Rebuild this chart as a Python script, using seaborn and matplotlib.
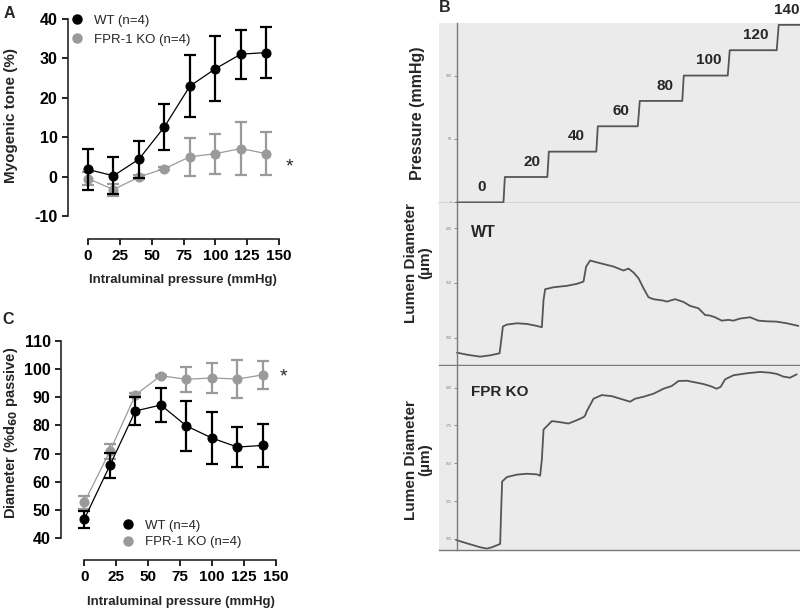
import pandas as pd
import matplotlib.pyplot as plt
from matplotlib.lines import Line2D
import seaborn as sns

sns.set_style("ticks")
plt.rcParams["font.family"] = ["Liberation Sans", "DejaVu Sans"]
plt.rcParams["axes.unicode_minus"] = False

# ---- panel A / C data (mean +/- SEM)
pressure = [0, 20, 40, 60, 80, 100, 120, 140]

tone_wt = [1.9, 0.3, 4.5, 12.7, 23.0, 27.4, 31.1, 31.5]
tone_wt_err = [5.1, 4.7, 4.7, 5.9, 7.8, 8.2, 6.2, 6.5]
tone_ko = [-0.4, -3.2, 0.0, 2.1, 5.1, 5.9, 7.2, 5.9]
tone_ko_err = [1.6, 1.5, 0.5, 0.3, 4.8, 5.1, 6.7, 5.4]

diam_wt = [46.8, 65.8, 85.1, 87.2, 79.8, 75.5, 72.3, 72.9]
diam_wt_err = [3.0, 4.5, 4.9, 5.9, 9.0, 9.3, 7.0, 7.7]
diam_ko = [52.7, 70.8, 90.8, 97.6, 96.3, 96.8, 96.4, 97.9]
diam_ko_err = [2.3, 2.6, 0.5, 0.4, 4.5, 5.2, 6.7, 5.0]

# ---- panel B traces (time in arbitrary units)
p_time = [0, 46.6, 48, 90.5, 92, 139.5, 141, 181, 183, 225.5, 227, 271, 273, 320, 322, 343.3]
p_value = [0, 0, 20, 20, 40, 40, 60, 60, 80, 80, 100, 100, 120, 120, 140, 140]
step_labels = ["0", "20", "40", "60", "80", "100", "120", "140"]
step_label_x = [25, 75, 119, 164, 208, 252, 299, 330]

wt_time = [0, 10, 23.3, 33.3, 42.7, 44, 46, 50, 60, 70, 80, 85, 86.7, 88.3, 96.7,
           110, 120, 126.7, 129.3, 133.3, 143.3, 156.7, 166.7, 171.7, 176.7, 181.7,
           186.7, 191.7, 196.7, 206.7, 210, 218.3, 226.7, 233.3, 241.7, 248.3, 253.3,
           258.3, 265, 271.7, 276.7, 283.3, 293.3, 301.7, 310, 320, 330, 341.7]
wt_diam = [86.3, 84.4, 82.6, 83.8, 85.7, 94.8, 110.1, 111.9, 113.1, 112.5, 110.7,
           109.5, 134.5, 144.2, 146.0, 147.3, 149.1, 151.2, 164.9, 170.4, 168.0,
           164.9, 161.3, 163.1, 159.5, 154.3, 145.1, 136.9, 135.1, 133.8, 132.9,
           135.1, 132.6, 129.0, 126.8, 120.7, 120.1, 118.6, 115.5, 116.2, 115.5,
           117.4, 118.6, 115.5, 114.9, 114.6, 113.1, 110.7]

ko_time = [-0.7, 10, 23.3, 30, 35, 43.3, 44.3, 45.3, 50, 60, 70, 80, 83.3, 85, 86.7,
           95, 103.3, 111.7, 120, 126.7, 128.3, 130, 136.7, 145, 155, 173.3, 178.3,
           186.7, 196.7, 206.7, 215, 221.7, 230, 240, 246.7, 253.3, 260, 264, 268.3,
           276.7, 290, 303.3, 313.3, 320, 326.7, 333.3, 340]
ko_diam = [99.3, 97.1, 94.5, 93.6, 94.5, 96.7, 119.2, 138.0, 140.9, 142.5, 143.1,
           142.7, 141.8, 152.4, 172.3, 177.9, 177.2, 176.3, 178.5, 180.5, 181.6, 184.5,
           192.7, 195.1, 194.4, 190.7, 192.7, 194.0, 196.0, 199.3, 201.1, 204.4, 204.6,
           203.3, 202.4, 201.1, 199.3, 200.6, 205.5, 208.2, 209.5, 210.4, 209.9, 209.1,
           207.3, 206.6, 208.8]

WT_COLOR = "black"
KO_COLOR = "#9a9a9a"
TRACE_BG = "#ebebeb"
TRACE_AX = "#7a7a7a"
TRACE_LINE = "#555555"

fig = plt.figure(figsize=(8, 6.09), dpi=100)


def group_plot(ax, y_wt, e_wt, y_ko, e_ko):
    for y, e, c in [(y_ko, e_ko, KO_COLOR), (y_wt, e_wt, WT_COLOR)]:
        ax.errorbar(pressure, y, yerr=e, fmt="none", ecolor=c, elinewidth=1.6,
                    capsize=4.3, capthick=1.6, clip_on=False)
        sns.lineplot(x=pressure, y=y, ax=ax, color=c, lw=0.9, marker="o",
                     markersize=6.5, markeredgecolor=c, estimator=None, clip_on=False)
    sns.despine(ax=ax)
    ax.spines["left"].set_linewidth(1.2)
    ax.spines["bottom"].set_linewidth(1.2)
    ax.spines["bottom"].set_bounds(0, 150)
    ax.set_xticks([0, 25, 50, 75, 100, 125, 150])
    ax.tick_params(width=1.2, length=4, colors="black")
    ax.tick_params(axis="x", labelsize=11)
    ax.tick_params(axis="y", labelsize=11.5)
    ax.set_xlabel("Intraluminal pressure (mmHg)", fontsize=9.5, fontweight="bold")


def bold_ticks(ax):
    for lbl in ax.get_xticklabels() + ax.get_yticklabels():
        lbl.set_fontweight("bold")


def group_legend(ax, anchor, spacing):
    handles = [Line2D([], [], ls="none", marker="o", color=WT_COLOR, markersize=6.5),
               Line2D([], [], ls="none", marker="o", color=KO_COLOR, markersize=6.5)]
    ax.legend(handles, ["WT (n=4)", "FPR-1 KO (n=4)"], loc="upper left",
              bbox_to_anchor=anchor, frameon=False, fontsize=9.5, handlelength=1,
              handletextpad=0.8, labelspacing=spacing, borderpad=0, borderaxespad=0)


# ---- A
axA = fig.add_axes([0.085, 0.6076, 0.2638, 0.3612])
group_plot(axA, tone_wt, tone_wt_err, tone_ko, tone_ko_err)
axA.set_xlim(-15.7, 150)
axA.set_ylim(-15.7, 40)
axA.set_yticks([-10, 0, 10, 20, 30, 40])
bold_ticks(axA)
axA.spines["left"].set_bounds(-10, 40)
axA.set_ylabel("Myogenic tone (%)", fontsize=11, fontweight="bold")
axA.yaxis.set_label_coords(-0.235, 0.56)
axA.xaxis.set_label_coords(0.545, -0.16)
axA.text(158, 2.5, "*", fontsize=14, ha="center", va="center", clip_on=False)
group_legend(axA, (0.012, 1.02), 0.5)

# ---- C
axC = fig.add_axes([0.07625, 0.0805, 0.2684, 0.3601])
group_plot(axC, diam_wt, diam_wt_err, diam_ko, diam_ko_err)
axC.set_xlim(-18.3, 150)
axC.set_ylim(32.3, 110)
axC.set_yticks([40, 50, 60, 70, 80, 90, 100, 110])
bold_ticks(axC)
axC.spines["left"].set_bounds(40, 110)
axC.set_ylabel("Diameter (%d$_\\mathbf{60}$ passive)", fontsize=10.5, fontweight="bold")
axC.yaxis.set_label_coords(-0.19, 0.58)
axC.xaxis.set_label_coords(0.557, -0.165)
axC.text(155.7, 97, "*", fontsize=14, ha="center", va="center", clip_on=False)
group_legend(axC, (0.282, 0.185), 0.35)

# ---- B traces
axP = fig.add_axes([0.549, 0.6667, 0.451, 0.2956])
axW = fig.add_axes([0.549, 0.4007, 0.451, 0.266])
axK = fig.add_axes([0.549, 0.0969, 0.451, 0.3023])

sns.lineplot(x=p_time, y=p_value, ax=axP, color=TRACE_LINE, lw=1.3, estimator=None, sort=False)
sns.lineplot(x=wt_time, y=wt_diam, ax=axW, color=TRACE_LINE, lw=1.3, estimator=None, sort=False)
sns.lineplot(x=ko_time, y=ko_diam, ax=axK, color=TRACE_LINE, lw=1.3, estimator=None, sort=False)

axP.set_ylim(-0.5, 141.5)
axW.set_ylim(75, 223)
axK.set_ylim(92.7, 214.4)
axP.set_yticks([0, 50, 100])
axW.set_yticks([100, 150, 200])
axK.set_yticks([100, 125, 150, 175, 200])

for ax in [axP, axW, axK]:
    ax.set_facecolor(TRACE_BG)
    ax.set_xlim(-17.7, 343.3)
    ax.set_xticks([])
    ax.spines["top"].set_visible(False)
    ax.spines["right"].set_visible(False)
    ax.spines["left"].set_position(("data", 0))
    for s in ["left", "bottom"]:
        ax.spines[s].set_color(TRACE_AX)
        ax.spines[s].set_linewidth(1.0)
    ax.tick_params(axis="y", length=2.5, width=0.6, colors=TRACE_AX, labelsize=2.5, pad=1)

for lab, x, lev in zip(step_labels, step_label_x, p_value[1::2]):
    axP.text(x, lev + 12, lab, fontsize=11, fontweight="bold", ha="center",
             va="center", clip_on=False)

axP.set_ylabel("Pressure (mmHg)", fontsize=11.5, fontweight="bold")
axP.yaxis.set_label_coords(-0.04, 0.5)
axW.set_ylabel("Lumen Diameter\n(µm)", fontsize=11, fontweight="bold", linespacing=1.0)
axW.yaxis.set_label_coords(-0.02, 0.63)
axK.set_ylabel("Lumen Diameter\n(µm)", fontsize=11, fontweight="bold", linespacing=1.0)
axK.yaxis.set_label_coords(-0.02, 0.49)

axW.text(0.088, 0.82, "WT", transform=axW.transAxes, fontsize=11.5,
         fontweight="bold", va="center")
axK.text(0.089, 0.859, "FPR KO", transform=axK.transAxes, fontsize=11,
         fontweight="bold", va="center")

# panel letters
fig.text(9 / 800, 1 - 13 / 609, "A", fontsize=11.5, fontweight="bold", ha="center", va="center")
fig.text(445 / 800, 1 - 7 / 609, "B", fontsize=11.5, fontweight="bold", ha="center", va="center")
fig.text(8 / 800, 1 - 320 / 609, "C", fontsize=11.5, fontweight="bold", ha="center", va="center")

fig.savefig("out.png", dpi=100, facecolor="white")
